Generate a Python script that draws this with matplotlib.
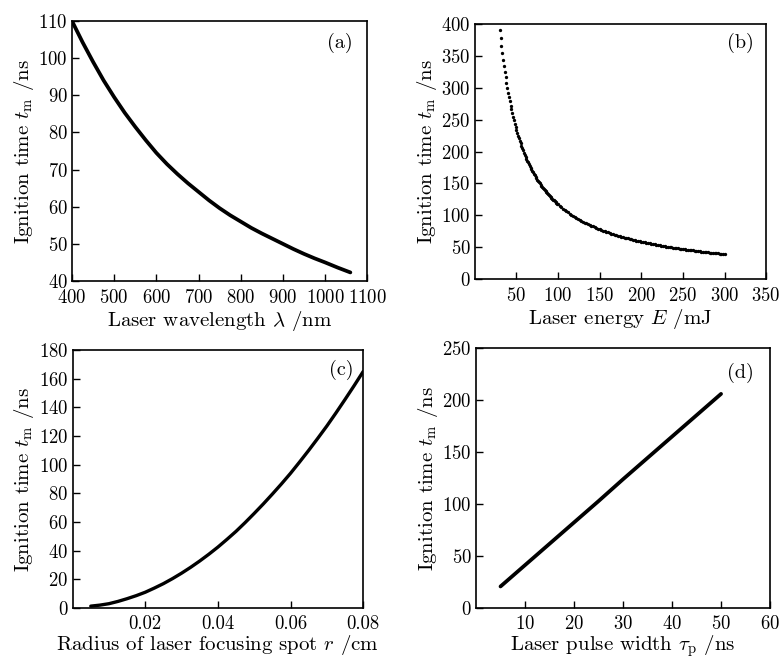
import matplotlib
matplotlib.use("Agg")
import matplotlib.pyplot as plt

plt.rcParams["font.family"] = ["cmr10", "DejaVu Serif"]
plt.rcParams["mathtext.fontset"] = "cm"
plt.rcParams["axes.formatter.use_mathtext"] = True
plt.rcParams["axes.unicode_minus"] = False

# (a) ignition time vs laser wavelength
wavelength_nm = [400, 425, 450, 475, 500, 525, 550, 575, 600, 625, 650, 675, 700,
                 725, 750, 775, 800, 825, 850, 875, 900, 925, 950, 975, 1000,
                 1030, 1060]
t_wavelength = [110.0, 104.3, 99.0, 94.0, 89.5, 85.3, 81.5, 77.9, 74.5, 71.5,
                68.8, 66.3, 64.0, 61.7, 59.6, 57.7, 56.0, 54.3, 52.8, 51.4,
                50.0, 48.6, 47.3, 46.1, 45.0, 43.6, 42.3]

# (b) ignition time vs laser energy (sampled every 1 mJ up to 100, then every 2 mJ)
energy_mJ = list(range(30, 101)) + list(range(102, 301, 2))
t_energy = [
    390.0, 377.4, 365.6, 354.5, 344.1, 334.3, 325.0, 316.2, 307.9, 300.0,
    292.5, 285.4, 278.6, 272.1, 265.9, 260.0, 254.3, 248.9, 243.8, 238.8,
    234.0, 229.4, 225.0, 220.8, 216.7, 212.7, 208.9, 205.3, 201.7, 198.3,
    195.0, 191.8, 188.7, 185.7, 182.8, 180.0, 177.3, 174.6, 172.1, 169.6,
    167.1, 164.8, 162.5, 160.3, 158.1, 156.0, 153.9, 151.9, 150.0, 148.1,
    146.3, 144.4, 142.7, 141.0, 139.3, 137.6, 136.0, 134.5, 133.0, 131.5,
    130.0, 128.6, 127.2, 125.8, 124.5, 123.2, 121.9, 120.6, 119.4, 118.2,
    117.0,
    114.7, 112.5, 110.4, 108.3, 106.4, 104.5, 102.6, 100.9, 99.2, 97.5,
    95.9, 94.4, 92.9, 91.4, 90.0, 88.6, 87.3, 86.0, 84.8, 83.6,
    82.4, 81.3, 80.1, 79.1, 78.0, 77.0, 76.0, 75.0, 74.1, 73.1,
    72.2, 71.3, 70.5, 69.6, 68.8, 68.0, 67.2, 66.5, 65.7, 65.0,
    64.3, 63.6, 62.9, 62.2, 61.6, 60.9, 60.3, 59.7, 59.1, 58.5,
    57.9, 57.4, 56.8, 56.3, 55.7, 55.2, 54.7, 54.2, 53.7, 53.2,
    52.7, 52.2, 51.8, 51.3, 50.9, 50.4, 50.0, 49.6, 49.2, 48.8,
    48.3, 48.0, 47.6, 47.2, 46.8, 46.4, 46.1, 45.7, 45.3, 45.0,
    44.7, 44.3, 44.0, 43.7, 43.3, 43.0, 42.7, 42.4, 42.1, 41.8,
    41.5, 41.2, 40.9, 40.6, 40.3, 40.1, 39.8, 39.5, 39.3, 39.0,
]

# (c) ignition time vs focusing spot radius
radius_cm = [0.005, 0.0075, 0.01, 0.0125, 0.015, 0.0175, 0.02, 0.0225, 0.025,
             0.0275, 0.03, 0.0325, 0.035, 0.0375, 0.04, 0.0425, 0.045, 0.0475,
             0.05, 0.0525, 0.055, 0.0575, 0.06, 0.0625, 0.065, 0.0675, 0.07,
             0.0725, 0.075, 0.0775, 0.08]
t_radius = [1.3, 2.0, 3.0, 4.6, 6.5, 8.6, 11.0, 13.9, 17.0, 20.5,
            24.3, 28.4, 32.8, 37.5, 42.5, 47.9, 53.5, 59.6, 66.0, 72.6,
            79.5, 86.6, 94.0, 101.9, 110.0, 118.4, 127.0, 136.1, 145.5,
            155.1, 165.0]

# (d) ignition time vs laser pulse width
pulse_ns = [5, 10, 15, 20, 25, 30, 35, 40, 45, 50]
t_pulse = [21.0, 41.5, 62.0, 82.5, 103.0, 124.0, 144.5, 165.0, 185.5, 206.0]

ylabel = r"Ignition time $t_{\mathrm{m}}$ /ns"
LABEL_FS = 15
TICK_FS = 13.5
TAG_FS = 14.5

fig = plt.figure(figsize=(7.81, 6.58), dpi=100)
axa = fig.add_axes([0.0922, 0.573, 0.378, 0.395])
axb = fig.add_axes([0.608, 0.576, 0.373, 0.3875])
axc = fig.add_axes([0.093, 0.076, 0.372, 0.392])
axd = fig.add_axes([0.6095, 0.0755, 0.3765, 0.3955])


def style(ax, xlim, xticks, ylim, yticks, xlabel, tag, tagpos, xpad, lpad):
    ax.set_xlim(*xlim)
    ax.set_ylim(*ylim)
    ax.set_xticks(xticks)
    ax.set_yticks(yticks)
    ax.tick_params(direction="in", length=5, width=1.0, labelsize=TICK_FS,
                   top=False, right=False)
    ax.tick_params(axis="x", pad=xpad)
    ax.tick_params(axis="y", pad=3)
    for s in ax.spines.values():
        s.set_linewidth(1.2)
    ax.set_xlabel(xlabel, fontsize=LABEL_FS, labelpad=lpad)
    ax.set_ylabel(ylabel, fontsize=LABEL_FS, labelpad=2)
    ax.text(tagpos[0], tagpos[1], tag, transform=ax.transAxes,
            fontsize=TAG_FS, ha="center", va="center")


axa.plot(wavelength_nm, t_wavelength, color="black", lw=2.7, solid_capstyle="round")
style(axa, (400, 1100), range(400, 1101, 100), (40, 110), range(40, 111, 10),
      r"Laser wavelength $\lambda$ /nm", "(a)", (0.908, 0.915), 6, 1)

axb.plot(energy_mJ, t_energy, ls="none", marker="o", ms=2.4, color="black",
         markeredgewidth=0)
style(axb, (0, 350), range(50, 351, 50), (0, 400), range(0, 401, 50),
      r"Laser energy $E$ /mJ", "(b)", (0.91, 0.925), 6, 1)

axc.plot(radius_cm, t_radius, color="black", lw=2.4, solid_capstyle="round")
style(axc, (0, 0.08), [0.02, 0.04, 0.06, 0.08], (0, 180), range(0, 181, 20),
      r"Radius of laser focusing spot $r$ /cm", "(c)", (0.925, 0.922), 5, 0)
axc.set_xticklabels(["0.02", "0.04", "0.06", "0.08"])

axd.plot(pulse_ns, t_pulse, color="black", lw=2.7, solid_capstyle="round")
style(axd, (0, 60), range(10, 61, 10), (0, 250), range(0, 251, 50),
      r"Laser pulse width $\tau_{\mathrm{p}}$ /ns", "(d)", (0.898, 0.904), 5, 0)

fig.savefig("out.png", dpi=100)
